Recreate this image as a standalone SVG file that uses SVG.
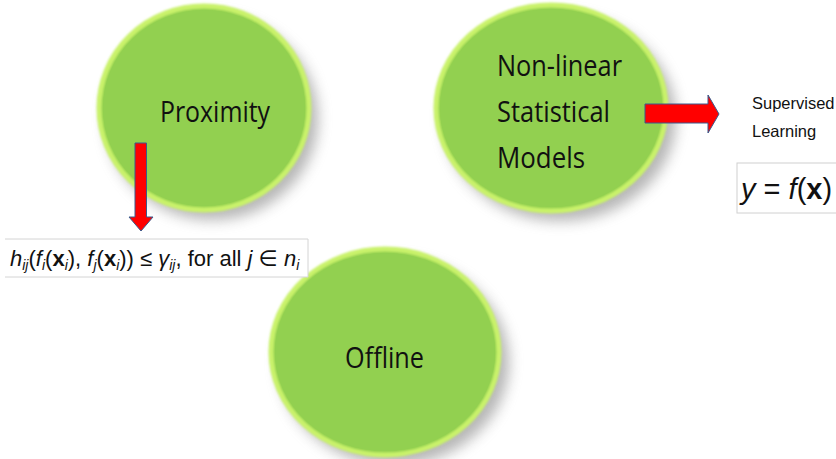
<svg xmlns="http://www.w3.org/2000/svg" width="836" height="459" viewBox="0 0 836 459">
  <style>
    .bubble { fill: #92d050; stroke: #c9f26a; stroke-width: 5; }
    .shadow { fill: #7a7a7a; opacity: 0.55; }
    .label { font-family: "Open Sans", "Liberation Sans", sans-serif; font-size: 30px; fill: #111; }
    .small { font-family: "Liberation Sans", "Open Sans", sans-serif; font-size: 16.5px; fill: #111; }
    .math { font-family: "Liberation Sans", "DejaVu Sans", sans-serif; fill: #111; }
    .arrow { fill: #ff0000; stroke: #3a5a8c; stroke-width: 1; }
    .box { fill: #ffffff; stroke: #d0d0d0; stroke-width: 1; }
  </style>
  <defs>
    <filter id="soft" x="-20%" y="-20%" width="140%" height="140%">
      <feGaussianBlur stdDeviation="7"/>
    </filter>
    <filter id="rim" x="-5%" y="-5%" width="110%" height="110%">
      <feGaussianBlur stdDeviation="1.2"/>
    </filter>
  </defs>

  <rect width="836" height="459" fill="#ffffff"/>

  <!-- Proximity -->
  <g id="proximity">
    <ellipse class="shadow" cx="212" cy="118" rx="106" ry="102" filter="url(#soft)"/>
    <ellipse class="bubble" cx="204" cy="108" rx="105" ry="102" filter="url(#rim)"/>
    <ellipse cx="204" cy="108" rx="101" ry="98" fill="#92d050"/>
    <text class="label" x="160" y="122" textLength="110" lengthAdjust="spacingAndGlyphs">Proximity</text>
  </g>

  <!-- Non-linear Statistical Models -->
  <g id="nonlinear">
    <ellipse class="shadow" cx="560" cy="118" rx="116" ry="103" filter="url(#soft)"/>
    <ellipse class="bubble" cx="551" cy="108" rx="115" ry="103" filter="url(#rim)"/>
    <ellipse cx="551" cy="108" rx="111" ry="99" fill="#92d050"/>
    <text class="label" x="497" y="76" textLength="125" lengthAdjust="spacingAndGlyphs">Non-linear</text>
    <text class="label" x="497" y="122" textLength="113" lengthAdjust="spacingAndGlyphs">Statistical</text>
    <text class="label" x="497" y="168" textLength="88" lengthAdjust="spacingAndGlyphs">Models</text>
  </g>

  <!-- Offline -->
  <g id="offline">
    <ellipse class="shadow" cx="394" cy="362" rx="115" ry="103" filter="url(#soft)"/>
    <ellipse class="bubble" cx="385" cy="352" rx="114" ry="103" filter="url(#rim)"/>
    <ellipse cx="385" cy="352" rx="110" ry="99" fill="#92d050"/>
    <text class="label" x="345" y="368" textLength="79" lengthAdjust="spacingAndGlyphs">Offline</text>
  </g>

  <!-- Constraint formula -->
  <g id="constraint">
    <path d="M5 239 H308 V277 H5" fill="#ffffff" stroke="#d4d4d4" stroke-width="1"/>
    <text class="math" x="10" y="266" font-size="22"><tspan font-style="italic">h</tspan><tspan font-style="italic" font-size="14" dy="4">ij</tspan><tspan dy="-4">(</tspan><tspan font-style="italic">f</tspan><tspan font-style="italic" font-size="14" dy="4">i</tspan><tspan dy="-4">(</tspan><tspan font-weight="bold">x</tspan><tspan font-style="italic" font-size="14" dy="4">i</tspan><tspan dy="-4">), </tspan><tspan font-style="italic">f</tspan><tspan font-style="italic" font-size="14" dy="4">j</tspan><tspan dy="-4">(</tspan><tspan font-weight="bold">x</tspan><tspan font-style="italic" font-size="14" dy="4">i</tspan><tspan dy="-4">)) ≤ </tspan><tspan font-style="italic">γ</tspan><tspan font-style="italic" font-size="14" dy="4">ij</tspan><tspan dy="-4">,  for all  </tspan><tspan font-style="italic">j</tspan><tspan> ∈ </tspan><tspan font-style="italic">n</tspan><tspan font-style="italic" font-size="14" dy="4">i</tspan></text>
  </g>

  <!-- Supervised learning -->
  <g id="supervised">
    <text class="small" x="752" y="109">Supervised</text>
    <text class="small" x="752" y="137">Learning</text>
  </g>

  <g id="model">
    <rect class="box" x="737" y="163" width="110" height="50"/>
    <text class="math" x="741" y="199" font-size="29"><tspan font-style="italic">y</tspan><tspan> = </tspan><tspan font-style="italic">f</tspan><tspan>(</tspan><tspan font-weight="bold">x</tspan><tspan>)</tspan></text>
  </g>

  <!-- Connectors -->
  <g id="connectors">
    <polygon class="arrow" points="135,143 146.5,143 146.5,217 153,217 141,231 129,217 135,217"/>
    <polygon class="arrow" points="645,104 708,104 708,95 719,114 708,133 708,123 645,123"/>
  </g>
</svg>
